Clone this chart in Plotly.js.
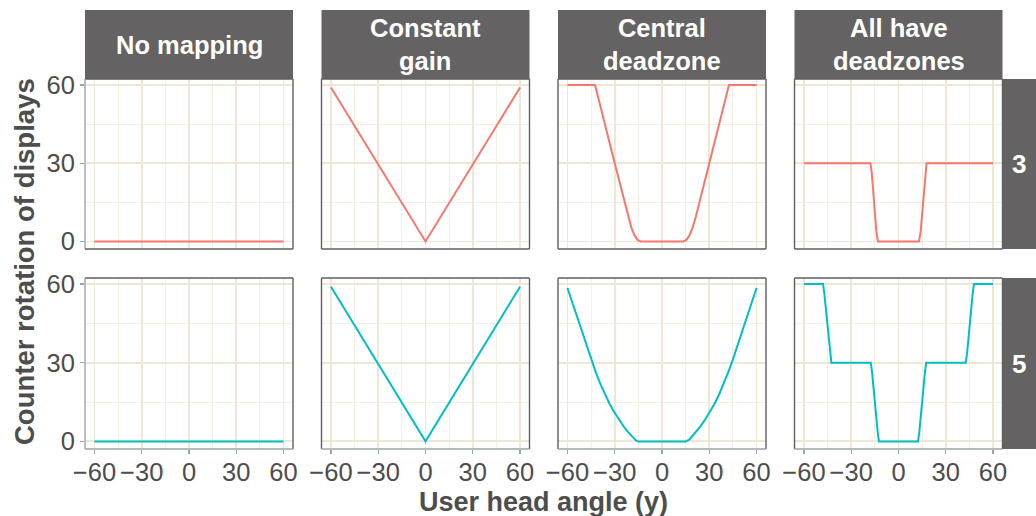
<!DOCTYPE html>
<html><head><meta charset="utf-8">
<script src="https://cdn.plot.ly/plotly-3.0.1.min.js"></script>
<style>html,body{margin:0;padding:0;background:#fff}#chart{width:1036px;height:516px}</style>
</head><body><div id="chart"></div>
<script>
// ---- labels / ticks ----
const columnLabels = ["No mapping", "Constant<br>gain", "Central<br>deadzone", "All have<br>deadzones"];
const rowLabels = ["3", "5"];
const xTickVals = [-60, -30, 0, 30, 60];
const xMinorVals = [-45, -15, 15, 45];
const yTickVals = [0, 30, 60];
const yMinorVals = [15, 45];
const xTitle = "User head angle (y)";
const yTitle = "Counter rotation of displays";

// ---- row "3" ----
const noMapping3X = [-60, 60];
const noMapping3Y = [0, 0];
const constGain3X = [-60, 0, 60];
const constGain3Y = [59, 0, 59];
const central3X = [-60, -42.5, -30, -21.5, -19.5, -17.5, -15.5, -13.5, 13.5, 15.5, 17.5, 19.5, 21.5, 30, 42.5, 60];
const central3Y = [60, 60, 30, 9.6, 5.4, 2.4, 0.6, 0, 0, 0.6, 2.4, 5.4, 9.6, 30, 60, 60];
const allDz3X = [-60, -17.8, -17, -14, -13, 13, 14, 17, 17.8, 60];
const allDz3Y = [30, 30, 26.5, 3.5, 0, 0, 3.5, 26.5, 30, 30];

// ---- row "5" ----
const noMapping5X = [-60, 60];
const noMapping5Y = [0, 0];
const constGain5X = [-60, 0, 60];
const constGain5Y = [59, 0, 59];
const central5X = [-60, -57, -54, -51, -48, -45, -42, -39, -36, -33, -30, -27, -24, -22, -20, -18, -17, -16, -15,
                   15, 16, 17, 18, 20, 22, 24, 27, 30, 33, 36, 39, 42, 45, 48, 51, 54, 57, 60];
const central5Y = [58.5, 53, 47.5, 42, 36.6, 31.3, 26.3, 21.7, 17.6, 14, 10.9, 8, 5.4, 3.9, 2.4, 1.1, 0.6, 0.2, 0,
                   0, 0.2, 0.6, 1.1, 2.4, 3.9, 5.4, 8, 10.9, 14, 17.6, 21.7, 26.3, 31.3, 36.6, 42, 47.5, 53, 58.5];
const allDz5X = [-60, -47.9, -47.1, -43.5, -42.6, -17.6, -16.8, -13.2, -12.4, 12.4, 13.2, 16.8, 17.6, 42.6, 43.5, 47.1, 47.9, 60];
const allDz5Y = [60, 60, 56.5, 33.5, 30, 30, 26.5, 3.5, 0, 0, 3.5, 26.5, 30, 30, 33.5, 56.5, 60, 60];

const rowSeries = [
  [[noMapping3X, noMapping3Y], [constGain3X, constGain3Y], [central3X, central3Y], [allDz3X, allDz3Y]],
  [[noMapping5X, noMapping5Y], [constGain5X, constGain5Y], [central5X, central5Y], [allDz5X, allDz5Y]]
];
const rowColors = ["#F8766D", "#00BFC4"];

// ---- layout geometry (pixels) ----
const W = 1036, H = 516;
const colPx = [[85, 293], [321.5, 529.5], [558, 766], [794.5, 1002.5]];
const rowPx = [[79, 249], [278, 449]];
const stripTop = 10, rightStripRight = 1036;
const px = v => v / W;
const py = v => 1 - v / H;

const FONT = "Liberation Sans, Arial, Helvetica, sans-serif";
const gridMajor = "#EDE7D3", gridMinor = "#F3EFE2";
const borderCol = "#5E5E5E", axisCol = "#9AA6A6", textCol = "#4D4D4D", stripCol = "#656263";

const traces = [];
const layout = {
  width: W, height: H, margin: {l: 0, r: 0, t: 0, b: 0},
  paper_bgcolor: "#ffffff", plot_bgcolor: "#ffffff",
  showlegend: false, font: {family: FONT, color: textCol, size: 25},
  shapes: [], annotations: []
};

for (let r = 0; r < 2; r++) {
  for (let c = 0; c < 4; c++) {
    const n = r * 4 + c + 1;
    const xa = n === 1 ? "xaxis" : "xaxis" + n;
    const ya = n === 1 ? "yaxis" : "yaxis" + n;
    const xr = n === 1 ? "x" : "x" + n;
    const yr = n === 1 ? "y" : "y" + n;
    const [sx, sy] = rowSeries[r][c];
    traces.push({x: sx, y: sy, type: "scatter", mode: "lines", xaxis: xr, yaxis: yr,
      line: {color: rowColors[r], width: 2}, hoverinfo: "skip"});
    layout[xa] = {
      domain: [px(colPx[c][0]), px(colPx[c][1])], anchor: yr, range: [-66, 66],
      tickmode: "array", tickvals: xTickVals, showticklabels: r === 1,
      ticks: r === 1 ? "outside" : "", ticklen: 4, tickwidth: 1.3, tickcolor: axisCol,
      ticklabelstandoff: -4,
      tickfont: {size: 25.5, color: textCol, family: FONT},
      showgrid: true, gridcolor: gridMajor, gridwidth: 1.8, zeroline: false, showline: false,
      minor: {tickvals: xMinorVals, showgrid: true, gridcolor: gridMinor, gridwidth: 1, ticks: ""},
      fixedrange: true
    };
    layout[ya] = {
      domain: [py(rowPx[r][1]), py(rowPx[r][0])], anchor: xr, range: [-2.9, 62.3],
      tickmode: "array", tickvals: yTickVals, showticklabels: c === 0,
      ticks: c === 0 ? "outside" : "", ticklen: 4, tickwidth: 1.3, tickcolor: axisCol,
      tickfont: {size: 25.5, color: textCol, family: FONT},
      showgrid: true, gridcolor: gridMajor, gridwidth: 1.8, zeroline: false, showline: false,
      minor: {tickvals: yMinorVals, showgrid: true, gridcolor: gridMinor, gridwidth: 1, ticks: ""},
      fixedrange: true
    };
    const x0 = px(colPx[c][0]), x1 = px(colPx[c][1]);
    const y0 = py(rowPx[r][1]), y1 = py(rowPx[r][0]);
    const seg = (a, b, cc, d, col) => layout.shapes.push({type: "line", xref: "paper", yref: "paper",
      x0: a, y0: b, x1: cc, y1: d, line: {color: col, width: 1.4}});
    seg(x0, y1, x1, y1, borderCol);                       // top
    seg(x1, y0, x1, y1, borderCol);                       // right
    seg(x0, y0, x0, y1, c === 0 ? axisCol : borderCol);   // left
    seg(x0, y0, x1, y0, r === 1 ? axisCol : borderCol);   // bottom
  }
}

// column strips
for (let c = 0; c < 4; c++) {
  layout.shapes.push({type: "rect", xref: "paper", yref: "paper", layer: "below",
    x0: px(colPx[c][0]), x1: px(colPx[c][1]), y0: py(rowPx[0][0]), y1: py(stripTop),
    fillcolor: stripCol, line: {width: 0}});
  layout.annotations.push({
    text: "<b>" + columnLabels[c].split("<br>").join("</b><br><b>") + "</b>", xref: "paper", yref: "paper",
    x: px((colPx[c][0] + colPx[c][1]) / 2), y: py(44.5), xanchor: "center", yanchor: "middle",
    showarrow: false, font: {family: FONT, size: 25.5, color: "#ffffff"}
  });
}
// row strips
for (let r = 0; r < 2; r++) {
  layout.shapes.push({type: "rect", xref: "paper", yref: "paper", layer: "below",
    x0: px(colPx[3][1]), x1: px(rightStripRight), y0: py(rowPx[r][1]), y1: py(rowPx[r][0]),
    fillcolor: stripCol, line: {width: 0}});
  layout.annotations.push({
    text: "<b>" + rowLabels[r] + "</b>", xref: "paper", yref: "paper",
    x: px((colPx[3][1] + rightStripRight) / 2), y: py((rowPx[r][0] + rowPx[r][1]) / 2),
    xanchor: "center", yanchor: "middle", showarrow: false,
    font: {family: FONT, size: 26, color: "#ffffff"}
  });
}
// axis titles
layout.annotations.push({
  text: "<b>" + xTitle + "</b>", xref: "paper", yref: "paper",
  x: px((colPx[0][0] + colPx[3][1]) / 2), y: py(502), xanchor: "center", yanchor: "middle",
  showarrow: false, font: {family: FONT, size: 27, color: textCol}
});
layout.annotations.push({
  text: "<b>" + yTitle + "</b>", xref: "paper", yref: "paper", textangle: -90,
  x: px(24), y: py((rowPx[0][0] + rowPx[1][1]) / 2 - 2), xanchor: "center", yanchor: "middle",
  showarrow: false, font: {family: FONT, size: 27.5, color: textCol}
});

Plotly.newPlot("chart", traces, layout, {staticPlot: true, displayModeBar: false});
</script>
</body></html>
